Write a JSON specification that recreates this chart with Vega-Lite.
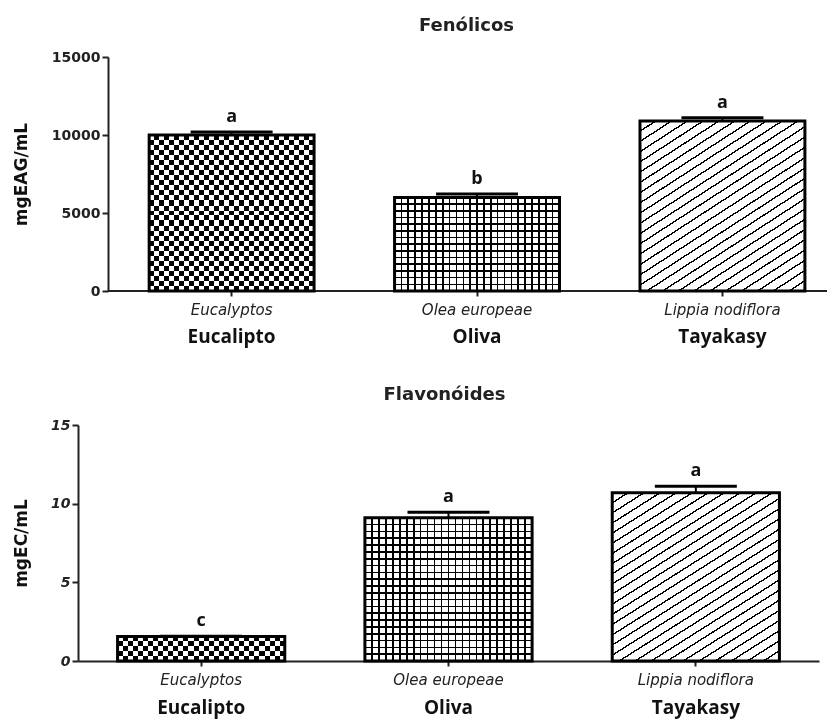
{
  "$schema": "https://vega.github.io/schema/vega-lite/v6.json",
  "background": "#ffffff",
  "padding": {"left": 12, "top": 17, "right": 0, "bottom": 6},
  "spacing": 40,
  "config": {
    "view": {"stroke": null},
    "axis": {"grid": false, "domainColor": "#222", "domainWidth": 2, "tickColor": "#222", "tickWidth": 2},
    "title": {"font": "DejaVu Sans", "fontSize": 18, "fontWeight": "bold", "color": "#222", "anchor": "middle"}
  },
  "datasets": {
    "fenolicos": [
      {"name": "Eucalipto", "value": 10000, "hi": 10200, "letter": "a"},
      {"name": "Oliva", "value": 6000, "hi": 6220, "letter": "b"},
      {"name": "Tayakasy", "value": 10900, "hi": 11100, "letter": "a"}
    ],
    "flavonoides": [
      {"name": "Eucalipto", "value": 1.55, "hi": 1.58, "letter": "c"},
      {"name": "Oliva", "value": 9.1, "hi": 9.45, "letter": "a"},
      {"name": "Tayakasy", "value": 10.7, "hi": 11.1, "letter": "a"}
    ]
  },
  "vconcat": [
    {
      "title": {"text": "Fenólicos", "dx": 14, "offset": 15},
      "width": 749,
      "height": 234,
      "data": {"name": "fenolicos"},
      "resolve": {"axis": {"x": "independent"}},
      "layer": [
        {
          "mark": {"type": "bar", "fill": "#fff"},
          "encoding": {
            "x": {"field": "name", "type": "nominal", "sort": null,
                  "scale": {"domain": ["Eucalipto", "Oliva", "Tayakasy"], "paddingInner": 0.328, "paddingOuter": 0.19, "align": 0.763},
                  "axis": {"orient": "bottom", "title": null, "domain": false, "labelAngle": 0, "labelFont": "DejaVu Sans", "labelFontStyle": "italic", "labelFontSize": 15, "labelColor": "#222", "labelPadding": 6, "tickSize": 5,
                           "labelExpr": "datum.value === 'Eucalipto' ? 'Eucalyptos' : datum.value === 'Oliva' ? 'Olea europeae' : 'Lippia nodiflora'"}},
            "y": {"field": "value", "type": "quantitative", "scale": {"domain": [0, 15000], "nice": false},
                  "axis": {"offset": -30, "title": "mgEAG/mL", "titleFont": "DejaVu Sans", "titleFontSize": 17, "titleFontWeight": "bold", "titleColor": "#111", "titlePadding": 21, "format": "d",
                           "values": [0, 5000, 10000, 15000], "labelFont": "DejaVu Sans", "labelFontSize": 14, "labelFontWeight": "bold", "labelColor": "#222", "labelPadding": 2, "tickSize": 6}}
          }
        },
        {
          "mark": {"type": "rule", "color": "#222", "strokeWidth": 2},
          "encoding": {
            "x": {"datum": "Eucalipto", "type": "nominal", "bandPosition": -0.25, "axis": null},
            "x2": {"datum": "Tayakasy", "bandPosition": 1.134},
            "y": {"datum": 0, "type": "quantitative"}
          }
        },
        {
          "transform": [{"filter": "datum.name === 'Eucalipto'"}],
          "mark": {"type": "bar", "fill": {"gradient": "linear", "x1": 0, "y1": 0, "x2": 1, "y2": 0, "stops": [
            {"offset":0,"color":"#000"},{"offset":0.030,"color":"#000"},{"offset":0.030,"color":"#fff"},{"offset":0.061,"color":"#fff"},
            {"offset":0.061,"color":"#000"},{"offset":0.091,"color":"#000"},{"offset":0.091,"color":"#fff"},{"offset":0.121,"color":"#fff"},
            {"offset":0.121,"color":"#000"},{"offset":0.152,"color":"#000"},{"offset":0.152,"color":"#fff"},{"offset":0.182,"color":"#fff"},
            {"offset":0.182,"color":"#000"},{"offset":0.212,"color":"#000"},{"offset":0.212,"color":"#fff"},{"offset":0.242,"color":"#fff"},
            {"offset":0.242,"color":"#000"},{"offset":0.273,"color":"#000"},{"offset":0.273,"color":"#fff"},{"offset":0.303,"color":"#fff"},
            {"offset":0.303,"color":"#000"},{"offset":0.333,"color":"#000"},{"offset":0.333,"color":"#fff"},{"offset":0.364,"color":"#fff"},
            {"offset":0.364,"color":"#000"},{"offset":0.394,"color":"#000"},{"offset":0.394,"color":"#fff"},{"offset":0.424,"color":"#fff"},
            {"offset":0.424,"color":"#000"},{"offset":0.455,"color":"#000"},{"offset":0.455,"color":"#fff"},{"offset":0.485,"color":"#fff"},
            {"offset":0.485,"color":"#000"},{"offset":0.515,"color":"#000"},{"offset":0.515,"color":"#fff"},{"offset":0.545,"color":"#fff"},
            {"offset":0.545,"color":"#000"},{"offset":0.576,"color":"#000"},{"offset":0.576,"color":"#fff"},{"offset":0.606,"color":"#fff"},
            {"offset":0.606,"color":"#000"},{"offset":0.636,"color":"#000"},{"offset":0.636,"color":"#fff"},{"offset":0.667,"color":"#fff"},
            {"offset":0.667,"color":"#000"},{"offset":0.697,"color":"#000"},{"offset":0.697,"color":"#fff"},{"offset":0.727,"color":"#fff"},
            {"offset":0.727,"color":"#000"},{"offset":0.758,"color":"#000"},{"offset":0.758,"color":"#fff"},{"offset":0.788,"color":"#fff"},
            {"offset":0.788,"color":"#000"},{"offset":0.818,"color":"#000"},{"offset":0.818,"color":"#fff"},{"offset":0.848,"color":"#fff"},
            {"offset":0.848,"color":"#000"},{"offset":0.879,"color":"#000"},{"offset":0.879,"color":"#fff"},{"offset":0.909,"color":"#fff"},
            {"offset":0.909,"color":"#000"},{"offset":0.939,"color":"#000"},{"offset":0.939,"color":"#fff"},{"offset":0.970,"color":"#fff"},
            {"offset":0.970,"color":"#000"},{"offset":1,"color":"#000"}]}},
          "encoding": {"x": {"field": "name", "type": "nominal", "sort": null, "axis": null}, "y": {"field": "value", "type": "quantitative"}}
        },
        {
          "transform": [{"filter": "datum.name === 'Eucalipto'"}],
          "mark": {"type": "bar", "blend": "difference", "fill": {"gradient": "linear", "x1": 0, "y1": 0, "x2": 0, "y2": 1, "stops": [
            {"offset":0,"color":"#fff"},{"offset":0.032,"color":"#fff"},{"offset":0.032,"color":"#0000"},{"offset":0.065,"color":"#0000"},
            {"offset":0.065,"color":"#fff"},{"offset":0.097,"color":"#fff"},{"offset":0.097,"color":"#0000"},{"offset":0.129,"color":"#0000"},
            {"offset":0.129,"color":"#fff"},{"offset":0.161,"color":"#fff"},{"offset":0.161,"color":"#0000"},{"offset":0.194,"color":"#0000"},
            {"offset":0.194,"color":"#fff"},{"offset":0.226,"color":"#fff"},{"offset":0.226,"color":"#0000"},{"offset":0.258,"color":"#0000"},
            {"offset":0.258,"color":"#fff"},{"offset":0.290,"color":"#fff"},{"offset":0.290,"color":"#0000"},{"offset":0.323,"color":"#0000"},
            {"offset":0.323,"color":"#fff"},{"offset":0.355,"color":"#fff"},{"offset":0.355,"color":"#0000"},{"offset":0.387,"color":"#0000"},
            {"offset":0.387,"color":"#fff"},{"offset":0.419,"color":"#fff"},{"offset":0.419,"color":"#0000"},{"offset":0.452,"color":"#0000"},
            {"offset":0.452,"color":"#fff"},{"offset":0.484,"color":"#fff"},{"offset":0.484,"color":"#0000"},{"offset":0.516,"color":"#0000"},
            {"offset":0.516,"color":"#fff"},{"offset":0.548,"color":"#fff"},{"offset":0.548,"color":"#0000"},{"offset":0.581,"color":"#0000"},
            {"offset":0.581,"color":"#fff"},{"offset":0.613,"color":"#fff"},{"offset":0.613,"color":"#0000"},{"offset":0.645,"color":"#0000"},
            {"offset":0.645,"color":"#fff"},{"offset":0.677,"color":"#fff"},{"offset":0.677,"color":"#0000"},{"offset":0.710,"color":"#0000"},
            {"offset":0.710,"color":"#fff"},{"offset":0.742,"color":"#fff"},{"offset":0.742,"color":"#0000"},{"offset":0.774,"color":"#0000"},
            {"offset":0.774,"color":"#fff"},{"offset":0.806,"color":"#fff"},{"offset":0.806,"color":"#0000"},{"offset":0.839,"color":"#0000"},
            {"offset":0.839,"color":"#fff"},{"offset":0.871,"color":"#fff"},{"offset":0.871,"color":"#0000"},{"offset":0.903,"color":"#0000"},
            {"offset":0.903,"color":"#fff"},{"offset":0.935,"color":"#fff"},{"offset":0.935,"color":"#0000"},{"offset":0.968,"color":"#0000"},
            {"offset":0.968,"color":"#fff"},{"offset":1,"color":"#fff"}]}},
          "encoding": {"x": {"field": "name", "type": "nominal", "sort": null, "axis": null}, "y": {"field": "value", "type": "quantitative"}}
        },
        {
          "transform": [{"filter": "datum.name === 'Oliva'"}],
          "mark": {"type": "bar", "fill": {"gradient": "linear", "x1": 0, "y1": 0, "x2": 1, "y2": 0, "stops": [
            {"offset":0.037,"color":"#0000"},{"offset":0.037,"color":"#000"},{"offset":0.047,"color":"#000"},{"offset":0.047,"color":"#0000"},
            {"offset":0.078,"color":"#0000"},{"offset":0.078,"color":"#000"},{"offset":0.088,"color":"#000"},{"offset":0.088,"color":"#0000"},
            {"offset":0.120,"color":"#0000"},{"offset":0.120,"color":"#000"},{"offset":0.130,"color":"#000"},{"offset":0.130,"color":"#0000"},
            {"offset":0.162,"color":"#0000"},{"offset":0.162,"color":"#000"},{"offset":0.172,"color":"#000"},{"offset":0.172,"color":"#0000"},
            {"offset":0.203,"color":"#0000"},{"offset":0.203,"color":"#000"},{"offset":0.213,"color":"#000"},{"offset":0.213,"color":"#0000"},
            {"offset":0.245,"color":"#0000"},{"offset":0.245,"color":"#000"},{"offset":0.255,"color":"#000"},{"offset":0.255,"color":"#0000"},
            {"offset":0.287,"color":"#0000"},{"offset":0.287,"color":"#000"},{"offset":0.297,"color":"#000"},{"offset":0.297,"color":"#0000"},
            {"offset":0.328,"color":"#0000"},{"offset":0.328,"color":"#000"},{"offset":0.338,"color":"#000"},{"offset":0.338,"color":"#0000"},
            {"offset":0.370,"color":"#0000"},{"offset":0.370,"color":"#000"},{"offset":0.380,"color":"#000"},{"offset":0.380,"color":"#0000"},
            {"offset":0.412,"color":"#0000"},{"offset":0.412,"color":"#000"},{"offset":0.422,"color":"#000"},{"offset":0.422,"color":"#0000"},
            {"offset":0.453,"color":"#0000"},{"offset":0.453,"color":"#000"},{"offset":0.463,"color":"#000"},{"offset":0.463,"color":"#0000"},
            {"offset":0.495,"color":"#0000"},{"offset":0.495,"color":"#000"},{"offset":0.505,"color":"#000"},{"offset":0.505,"color":"#0000"},
            {"offset":0.537,"color":"#0000"},{"offset":0.537,"color":"#000"},{"offset":0.547,"color":"#000"},{"offset":0.547,"color":"#0000"},
            {"offset":0.578,"color":"#0000"},{"offset":0.578,"color":"#000"},{"offset":0.588,"color":"#000"},{"offset":0.588,"color":"#0000"},
            {"offset":0.620,"color":"#0000"},{"offset":0.620,"color":"#000"},{"offset":0.630,"color":"#000"},{"offset":0.630,"color":"#0000"},
            {"offset":0.662,"color":"#0000"},{"offset":0.662,"color":"#000"},{"offset":0.672,"color":"#000"},{"offset":0.672,"color":"#0000"},
            {"offset":0.703,"color":"#0000"},{"offset":0.703,"color":"#000"},{"offset":0.713,"color":"#000"},{"offset":0.713,"color":"#0000"},
            {"offset":0.745,"color":"#0000"},{"offset":0.745,"color":"#000"},{"offset":0.755,"color":"#000"},{"offset":0.755,"color":"#0000"},
            {"offset":0.787,"color":"#0000"},{"offset":0.787,"color":"#000"},{"offset":0.797,"color":"#000"},{"offset":0.797,"color":"#0000"},
            {"offset":0.828,"color":"#0000"},{"offset":0.828,"color":"#000"},{"offset":0.838,"color":"#000"},{"offset":0.838,"color":"#0000"},
            {"offset":0.870,"color":"#0000"},{"offset":0.870,"color":"#000"},{"offset":0.880,"color":"#000"},{"offset":0.880,"color":"#0000"},
            {"offset":0.912,"color":"#0000"},{"offset":0.912,"color":"#000"},{"offset":0.922,"color":"#000"},{"offset":0.922,"color":"#0000"},
            {"offset":0.953,"color":"#0000"},{"offset":0.953,"color":"#000"},{"offset":0.963,"color":"#000"},{"offset":0.963,"color":"#0000"}]}},
          "encoding": {"x": {"field": "name", "type": "nominal", "sort": null, "axis": null}, "y": {"field": "value", "type": "quantitative"}}
        },
        {
          "transform": [{"filter": "datum.name === 'Oliva'"}],
          "mark": {"type": "bar", "fill": {"gradient": "linear", "x1": 0, "y1": 0, "x2": 0, "y2": 1, "stops": [
            {"offset":0.063,"color":"#0000"},{"offset":0.063,"color":"#000"},{"offset":0.080,"color":"#000"},{"offset":0.080,"color":"#0000"},
            {"offset":0.134,"color":"#0000"},{"offset":0.134,"color":"#000"},{"offset":0.151,"color":"#000"},{"offset":0.151,"color":"#0000"},
            {"offset":0.206,"color":"#0000"},{"offset":0.206,"color":"#000"},{"offset":0.223,"color":"#000"},{"offset":0.223,"color":"#0000"},
            {"offset":0.277,"color":"#0000"},{"offset":0.277,"color":"#000"},{"offset":0.294,"color":"#000"},{"offset":0.294,"color":"#0000"},
            {"offset":0.349,"color":"#0000"},{"offset":0.349,"color":"#000"},{"offset":0.366,"color":"#000"},{"offset":0.366,"color":"#0000"},
            {"offset":0.420,"color":"#0000"},{"offset":0.420,"color":"#000"},{"offset":0.437,"color":"#000"},{"offset":0.437,"color":"#0000"},
            {"offset":0.492,"color":"#0000"},{"offset":0.492,"color":"#000"},{"offset":0.509,"color":"#000"},{"offset":0.509,"color":"#0000"},
            {"offset":0.563,"color":"#0000"},{"offset":0.563,"color":"#000"},{"offset":0.580,"color":"#000"},{"offset":0.580,"color":"#0000"},
            {"offset":0.634,"color":"#0000"},{"offset":0.634,"color":"#000"},{"offset":0.651,"color":"#000"},{"offset":0.651,"color":"#0000"},
            {"offset":0.706,"color":"#0000"},{"offset":0.706,"color":"#000"},{"offset":0.723,"color":"#000"},{"offset":0.723,"color":"#0000"},
            {"offset":0.777,"color":"#0000"},{"offset":0.777,"color":"#000"},{"offset":0.794,"color":"#000"},{"offset":0.794,"color":"#0000"},
            {"offset":0.849,"color":"#0000"},{"offset":0.849,"color":"#000"},{"offset":0.866,"color":"#000"},{"offset":0.866,"color":"#0000"},
            {"offset":0.920,"color":"#0000"},{"offset":0.920,"color":"#000"},{"offset":0.937,"color":"#000"},{"offset":0.937,"color":"#0000"}]}},
          "encoding": {"x": {"field": "name", "type": "nominal", "sort": null, "axis": null}, "y": {"field": "value", "type": "quantitative"}}
        },
        {
          "transform": [{"filter": "datum.name === 'Tayakasy'"}],
          "mark": {"type": "bar", "fill": {"gradient": "linear", "x1": 0, "y1": 0, "x2": 0.734, "y2": 1.167, "stops": [
            {"offset":0.034,"color":"#fff"},{"offset":0.034,"color":"#000"},{"offset":0.040,"color":"#000"},{"offset":0.040,"color":"#fff"},
            {"offset":0.071,"color":"#fff"},{"offset":0.071,"color":"#000"},{"offset":0.077,"color":"#000"},{"offset":0.077,"color":"#fff"},
            {"offset":0.108,"color":"#fff"},{"offset":0.108,"color":"#000"},{"offset":0.114,"color":"#000"},{"offset":0.114,"color":"#fff"},
            {"offset":0.145,"color":"#fff"},{"offset":0.145,"color":"#000"},{"offset":0.151,"color":"#000"},{"offset":0.151,"color":"#fff"},
            {"offset":0.182,"color":"#fff"},{"offset":0.182,"color":"#000"},{"offset":0.188,"color":"#000"},{"offset":0.188,"color":"#fff"},
            {"offset":0.219,"color":"#fff"},{"offset":0.219,"color":"#000"},{"offset":0.225,"color":"#000"},{"offset":0.225,"color":"#fff"},
            {"offset":0.256,"color":"#fff"},{"offset":0.256,"color":"#000"},{"offset":0.262,"color":"#000"},{"offset":0.262,"color":"#fff"},
            {"offset":0.293,"color":"#fff"},{"offset":0.293,"color":"#000"},{"offset":0.299,"color":"#000"},{"offset":0.299,"color":"#fff"},
            {"offset":0.330,"color":"#fff"},{"offset":0.330,"color":"#000"},{"offset":0.336,"color":"#000"},{"offset":0.336,"color":"#fff"},
            {"offset":0.367,"color":"#fff"},{"offset":0.367,"color":"#000"},{"offset":0.373,"color":"#000"},{"offset":0.373,"color":"#fff"},
            {"offset":0.404,"color":"#fff"},{"offset":0.404,"color":"#000"},{"offset":0.410,"color":"#000"},{"offset":0.410,"color":"#fff"},
            {"offset":0.441,"color":"#fff"},{"offset":0.441,"color":"#000"},{"offset":0.447,"color":"#000"},{"offset":0.447,"color":"#fff"},
            {"offset":0.478,"color":"#fff"},{"offset":0.478,"color":"#000"},{"offset":0.484,"color":"#000"},{"offset":0.484,"color":"#fff"},
            {"offset":0.516,"color":"#fff"},{"offset":0.516,"color":"#000"},{"offset":0.522,"color":"#000"},{"offset":0.522,"color":"#fff"},
            {"offset":0.553,"color":"#fff"},{"offset":0.553,"color":"#000"},{"offset":0.559,"color":"#000"},{"offset":0.559,"color":"#fff"},
            {"offset":0.590,"color":"#fff"},{"offset":0.590,"color":"#000"},{"offset":0.596,"color":"#000"},{"offset":0.596,"color":"#fff"},
            {"offset":0.627,"color":"#fff"},{"offset":0.627,"color":"#000"},{"offset":0.633,"color":"#000"},{"offset":0.633,"color":"#fff"},
            {"offset":0.664,"color":"#fff"},{"offset":0.664,"color":"#000"},{"offset":0.670,"color":"#000"},{"offset":0.670,"color":"#fff"},
            {"offset":0.701,"color":"#fff"},{"offset":0.701,"color":"#000"},{"offset":0.707,"color":"#000"},{"offset":0.707,"color":"#fff"},
            {"offset":0.738,"color":"#fff"},{"offset":0.738,"color":"#000"},{"offset":0.744,"color":"#000"},{"offset":0.744,"color":"#fff"},
            {"offset":0.775,"color":"#fff"},{"offset":0.775,"color":"#000"},{"offset":0.781,"color":"#000"},{"offset":0.781,"color":"#fff"},
            {"offset":0.812,"color":"#fff"},{"offset":0.812,"color":"#000"},{"offset":0.818,"color":"#000"},{"offset":0.818,"color":"#fff"},
            {"offset":0.849,"color":"#fff"},{"offset":0.849,"color":"#000"},{"offset":0.855,"color":"#000"},{"offset":0.855,"color":"#fff"},
            {"offset":0.886,"color":"#fff"},{"offset":0.886,"color":"#000"},{"offset":0.892,"color":"#000"},{"offset":0.892,"color":"#fff"},
            {"offset":0.923,"color":"#fff"},{"offset":0.923,"color":"#000"},{"offset":0.929,"color":"#000"},{"offset":0.929,"color":"#fff"},
            {"offset":0.960,"color":"#fff"},{"offset":0.960,"color":"#000"},{"offset":0.966,"color":"#000"},{"offset":0.966,"color":"#fff"}]}},
          "encoding": {"x": {"field": "name", "type": "nominal", "sort": null, "axis": null}, "y": {"field": "value", "type": "quantitative"}}
        },
        {
          "mark": {"type": "bar", "fill": "transparent", "stroke": "#000", "strokeWidth": 3},
          "encoding": {"x": {"field": "name", "type": "nominal", "sort": null, "axis": null}, "y": {"field": "value", "type": "quantitative"}}
        },
        {
          "mark": {"type": "rule", "color": "#000", "strokeWidth": 2},
          "encoding": {"x": {"field": "name", "type": "nominal", "sort": null, "axis": null}, "y": {"field": "value", "type": "quantitative"}, "y2": {"field": "hi"}}
        },
        {
          "mark": {"type": "tick", "orient": "horizontal", "color": "#000", "opacity": 1, "size": 82, "thickness": 3},
          "encoding": {"x": {"field": "name", "type": "nominal", "sort": null, "axis": null}, "y": {"field": "hi", "type": "quantitative"}}
        },
        {
          "mark": {"type": "text", "baseline": "bottom", "dy": -6, "font": "Open Sans", "fontSize": 18, "fontWeight": "bold", "color": "#111"},
          "encoding": {
            "x": {"field": "name", "type": "nominal", "sort": null,
                  "axis": {"orient": "bottom", "title": null, "domain": false, "ticks": false, "tickSize": 0, "labelAngle": 0, "labelFont": "Open Sans", "labelFontWeight": "bold", "labelFontSize": 19, "labelColor": "#111", "labelPadding": 0, "offset": 36}},
            "y": {"field": "hi", "type": "quantitative"},
            "text": {"field": "letter"}
          }
        }
      ]
    },
    {
      "title": {"text": "Flavonóides", "dx": -4, "offset": 14},
      "width": 741,
      "height": 236,
      "data": {"name": "flavonoides"},
      "resolve": {"axis": {"x": "independent"}},
      "layer": [
        {
          "mark": {"type": "bar", "fill": "#fff"},
          "encoding": {
            "x": {"field": "name", "type": "nominal", "sort": null,
                  "scale": {"domain": ["Eucalipto", "Oliva", "Tayakasy"], "paddingInner": 0.324, "paddingOuter": 0.16, "align": 0.5},
                  "axis": {"orient": "bottom", "title": null, "labelAngle": 0, "labelFont": "DejaVu Sans", "labelFontStyle": "italic", "labelFontSize": 15, "labelColor": "#222", "labelPadding": 6, "tickSize": 5,
                           "labelExpr": "datum.value === 'Eucalipto' ? 'Eucalyptos' : datum.value === 'Oliva' ? 'Olea europeae' : 'Lippia nodiflora'"}},
            "y": {"field": "value", "type": "quantitative", "scale": {"domain": [0, 15], "nice": false},
                  "axis": {"title": "mgEC/mL", "titleFont": "DejaVu Sans", "titleFontSize": 17, "titleFontWeight": "bold", "titleColor": "#111", "titlePadding": 20,
                           "values": [0, 5, 10, 15], "labelFont": "DejaVu Sans", "labelFontSize": 14, "labelFontWeight": "bold", "labelFontStyle": "italic", "labelColor": "#222", "labelPadding": 2, "tickSize": 6}}
          }
        },
        {
          "transform": [{"filter": "datum.name === 'Eucalipto'"}],
          "mark": {"type": "bar", "fill": {"gradient": "linear", "x1": 0, "y1": 0, "x2": 1, "y2": 0, "stops": [
            {"offset":0,"color":"#000"},{"offset":0.030,"color":"#000"},{"offset":0.030,"color":"#fff"},{"offset":0.061,"color":"#fff"},
            {"offset":0.061,"color":"#000"},{"offset":0.091,"color":"#000"},{"offset":0.091,"color":"#fff"},{"offset":0.121,"color":"#fff"},
            {"offset":0.121,"color":"#000"},{"offset":0.152,"color":"#000"},{"offset":0.152,"color":"#fff"},{"offset":0.182,"color":"#fff"},
            {"offset":0.182,"color":"#000"},{"offset":0.212,"color":"#000"},{"offset":0.212,"color":"#fff"},{"offset":0.242,"color":"#fff"},
            {"offset":0.242,"color":"#000"},{"offset":0.273,"color":"#000"},{"offset":0.273,"color":"#fff"},{"offset":0.303,"color":"#fff"},
            {"offset":0.303,"color":"#000"},{"offset":0.333,"color":"#000"},{"offset":0.333,"color":"#fff"},{"offset":0.364,"color":"#fff"},
            {"offset":0.364,"color":"#000"},{"offset":0.394,"color":"#000"},{"offset":0.394,"color":"#fff"},{"offset":0.424,"color":"#fff"},
            {"offset":0.424,"color":"#000"},{"offset":0.455,"color":"#000"},{"offset":0.455,"color":"#fff"},{"offset":0.485,"color":"#fff"},
            {"offset":0.485,"color":"#000"},{"offset":0.515,"color":"#000"},{"offset":0.515,"color":"#fff"},{"offset":0.545,"color":"#fff"},
            {"offset":0.545,"color":"#000"},{"offset":0.576,"color":"#000"},{"offset":0.576,"color":"#fff"},{"offset":0.606,"color":"#fff"},
            {"offset":0.606,"color":"#000"},{"offset":0.636,"color":"#000"},{"offset":0.636,"color":"#fff"},{"offset":0.667,"color":"#fff"},
            {"offset":0.667,"color":"#000"},{"offset":0.697,"color":"#000"},{"offset":0.697,"color":"#fff"},{"offset":0.727,"color":"#fff"},
            {"offset":0.727,"color":"#000"},{"offset":0.758,"color":"#000"},{"offset":0.758,"color":"#fff"},{"offset":0.788,"color":"#fff"},
            {"offset":0.788,"color":"#000"},{"offset":0.818,"color":"#000"},{"offset":0.818,"color":"#fff"},{"offset":0.848,"color":"#fff"},
            {"offset":0.848,"color":"#000"},{"offset":0.879,"color":"#000"},{"offset":0.879,"color":"#fff"},{"offset":0.909,"color":"#fff"},
            {"offset":0.909,"color":"#000"},{"offset":0.939,"color":"#000"},{"offset":0.939,"color":"#fff"},{"offset":0.970,"color":"#fff"},
            {"offset":0.970,"color":"#000"},{"offset":1,"color":"#000"}]}},
          "encoding": {"x": {"field": "name", "type": "nominal", "sort": null, "axis": null}, "y": {"field": "value", "type": "quantitative"}}
        },
        {
          "transform": [{"filter": "datum.name === 'Eucalipto'"}],
          "mark": {"type": "bar", "blend": "difference", "fill": {"gradient": "linear", "x1": 0, "y1": 0, "x2": 0, "y2": 1, "stops": [
            {"offset":0,"color":"#fff"},{"offset":0.2,"color":"#fff"},{"offset":0.2,"color":"#0000"},{"offset":0.4,"color":"#0000"},
            {"offset":0.4,"color":"#fff"},{"offset":0.6,"color":"#fff"},{"offset":0.6,"color":"#0000"},{"offset":0.8,"color":"#0000"},
            {"offset":0.8,"color":"#fff"},{"offset":1,"color":"#fff"}]}},
          "encoding": {"x": {"field": "name", "type": "nominal", "sort": null, "axis": null}, "y": {"field": "value", "type": "quantitative"}}
        },
        {
          "transform": [{"filter": "datum.name === 'Oliva'"}],
          "mark": {"type": "bar", "fill": {"gradient": "linear", "x1": 0, "y1": 0, "x2": 1, "y2": 0, "stops": [
            {"offset":0.037,"color":"#0000"},{"offset":0.037,"color":"#000"},{"offset":0.047,"color":"#000"},{"offset":0.047,"color":"#0000"},
            {"offset":0.078,"color":"#0000"},{"offset":0.078,"color":"#000"},{"offset":0.088,"color":"#000"},{"offset":0.088,"color":"#0000"},
            {"offset":0.120,"color":"#0000"},{"offset":0.120,"color":"#000"},{"offset":0.130,"color":"#000"},{"offset":0.130,"color":"#0000"},
            {"offset":0.162,"color":"#0000"},{"offset":0.162,"color":"#000"},{"offset":0.172,"color":"#000"},{"offset":0.172,"color":"#0000"},
            {"offset":0.203,"color":"#0000"},{"offset":0.203,"color":"#000"},{"offset":0.213,"color":"#000"},{"offset":0.213,"color":"#0000"},
            {"offset":0.245,"color":"#0000"},{"offset":0.245,"color":"#000"},{"offset":0.255,"color":"#000"},{"offset":0.255,"color":"#0000"},
            {"offset":0.287,"color":"#0000"},{"offset":0.287,"color":"#000"},{"offset":0.297,"color":"#000"},{"offset":0.297,"color":"#0000"},
            {"offset":0.328,"color":"#0000"},{"offset":0.328,"color":"#000"},{"offset":0.338,"color":"#000"},{"offset":0.338,"color":"#0000"},
            {"offset":0.370,"color":"#0000"},{"offset":0.370,"color":"#000"},{"offset":0.380,"color":"#000"},{"offset":0.380,"color":"#0000"},
            {"offset":0.412,"color":"#0000"},{"offset":0.412,"color":"#000"},{"offset":0.422,"color":"#000"},{"offset":0.422,"color":"#0000"},
            {"offset":0.453,"color":"#0000"},{"offset":0.453,"color":"#000"},{"offset":0.463,"color":"#000"},{"offset":0.463,"color":"#0000"},
            {"offset":0.495,"color":"#0000"},{"offset":0.495,"color":"#000"},{"offset":0.505,"color":"#000"},{"offset":0.505,"color":"#0000"},
            {"offset":0.537,"color":"#0000"},{"offset":0.537,"color":"#000"},{"offset":0.547,"color":"#000"},{"offset":0.547,"color":"#0000"},
            {"offset":0.578,"color":"#0000"},{"offset":0.578,"color":"#000"},{"offset":0.588,"color":"#000"},{"offset":0.588,"color":"#0000"},
            {"offset":0.620,"color":"#0000"},{"offset":0.620,"color":"#000"},{"offset":0.630,"color":"#000"},{"offset":0.630,"color":"#0000"},
            {"offset":0.662,"color":"#0000"},{"offset":0.662,"color":"#000"},{"offset":0.672,"color":"#000"},{"offset":0.672,"color":"#0000"},
            {"offset":0.703,"color":"#0000"},{"offset":0.703,"color":"#000"},{"offset":0.713,"color":"#000"},{"offset":0.713,"color":"#0000"},
            {"offset":0.745,"color":"#0000"},{"offset":0.745,"color":"#000"},{"offset":0.755,"color":"#000"},{"offset":0.755,"color":"#0000"},
            {"offset":0.787,"color":"#0000"},{"offset":0.787,"color":"#000"},{"offset":0.797,"color":"#000"},{"offset":0.797,"color":"#0000"},
            {"offset":0.828,"color":"#0000"},{"offset":0.828,"color":"#000"},{"offset":0.838,"color":"#000"},{"offset":0.838,"color":"#0000"},
            {"offset":0.870,"color":"#0000"},{"offset":0.870,"color":"#000"},{"offset":0.880,"color":"#000"},{"offset":0.880,"color":"#0000"},
            {"offset":0.912,"color":"#0000"},{"offset":0.912,"color":"#000"},{"offset":0.922,"color":"#000"},{"offset":0.922,"color":"#0000"},
            {"offset":0.953,"color":"#0000"},{"offset":0.953,"color":"#000"},{"offset":0.963,"color":"#000"},{"offset":0.963,"color":"#0000"}]}},
          "encoding": {"x": {"field": "name", "type": "nominal", "sort": null, "axis": null}, "y": {"field": "value", "type": "quantitative"}}
        },
        {
          "transform": [{"filter": "datum.name === 'Oliva'"}],
          "mark": {"type": "bar", "fill": {"gradient": "linear", "x1": 0, "y1": 0, "x2": 0, "y2": 1, "stops": [
            {"offset":0.042,"color":"#0000"},{"offset":0.042,"color":"#000"},{"offset":0.053,"color":"#000"},{"offset":0.053,"color":"#0000"},
            {"offset":0.089,"color":"#0000"},{"offset":0.089,"color":"#000"},{"offset":0.101,"color":"#000"},{"offset":0.101,"color":"#0000"},
            {"offset":0.137,"color":"#0000"},{"offset":0.137,"color":"#000"},{"offset":0.149,"color":"#000"},{"offset":0.149,"color":"#0000"},
            {"offset":0.184,"color":"#0000"},{"offset":0.184,"color":"#000"},{"offset":0.196,"color":"#000"},{"offset":0.196,"color":"#0000"},
            {"offset":0.232,"color":"#0000"},{"offset":0.232,"color":"#000"},{"offset":0.244,"color":"#000"},{"offset":0.244,"color":"#0000"},
            {"offset":0.280,"color":"#0000"},{"offset":0.280,"color":"#000"},{"offset":0.292,"color":"#000"},{"offset":0.292,"color":"#0000"},
            {"offset":0.327,"color":"#0000"},{"offset":0.327,"color":"#000"},{"offset":0.339,"color":"#000"},{"offset":0.339,"color":"#0000"},
            {"offset":0.375,"color":"#0000"},{"offset":0.375,"color":"#000"},{"offset":0.387,"color":"#000"},{"offset":0.387,"color":"#0000"},
            {"offset":0.423,"color":"#0000"},{"offset":0.423,"color":"#000"},{"offset":0.435,"color":"#000"},{"offset":0.435,"color":"#0000"},
            {"offset":0.470,"color":"#0000"},{"offset":0.470,"color":"#000"},{"offset":0.482,"color":"#000"},{"offset":0.482,"color":"#0000"},
            {"offset":0.518,"color":"#0000"},{"offset":0.518,"color":"#000"},{"offset":0.530,"color":"#000"},{"offset":0.530,"color":"#0000"},
            {"offset":0.565,"color":"#0000"},{"offset":0.565,"color":"#000"},{"offset":0.577,"color":"#000"},{"offset":0.577,"color":"#0000"},
            {"offset":0.613,"color":"#0000"},{"offset":0.613,"color":"#000"},{"offset":0.625,"color":"#000"},{"offset":0.625,"color":"#0000"},
            {"offset":0.661,"color":"#0000"},{"offset":0.661,"color":"#000"},{"offset":0.673,"color":"#000"},{"offset":0.673,"color":"#0000"},
            {"offset":0.708,"color":"#0000"},{"offset":0.708,"color":"#000"},{"offset":0.720,"color":"#000"},{"offset":0.720,"color":"#0000"},
            {"offset":0.756,"color":"#0000"},{"offset":0.756,"color":"#000"},{"offset":0.768,"color":"#000"},{"offset":0.768,"color":"#0000"},
            {"offset":0.804,"color":"#0000"},{"offset":0.804,"color":"#000"},{"offset":0.816,"color":"#000"},{"offset":0.816,"color":"#0000"},
            {"offset":0.851,"color":"#0000"},{"offset":0.851,"color":"#000"},{"offset":0.863,"color":"#000"},{"offset":0.863,"color":"#0000"},
            {"offset":0.899,"color":"#0000"},{"offset":0.899,"color":"#000"},{"offset":0.911,"color":"#000"},{"offset":0.911,"color":"#0000"},
            {"offset":0.946,"color":"#0000"},{"offset":0.946,"color":"#000"},{"offset":0.958,"color":"#000"},{"offset":0.958,"color":"#0000"}]}},
          "encoding": {"x": {"field": "name", "type": "nominal", "sort": null, "axis": null}, "y": {"field": "value", "type": "quantitative"}}
        },
        {
          "transform": [{"filter": "datum.name === 'Tayakasy'"}],
          "mark": {"type": "bar", "fill": {"gradient": "linear", "x1": 0, "y1": 0, "x2": 0.734, "y2": 1.167, "stops": [
            {"offset":0.034,"color":"#fff"},{"offset":0.034,"color":"#000"},{"offset":0.040,"color":"#000"},{"offset":0.040,"color":"#fff"},
            {"offset":0.071,"color":"#fff"},{"offset":0.071,"color":"#000"},{"offset":0.077,"color":"#000"},{"offset":0.077,"color":"#fff"},
            {"offset":0.108,"color":"#fff"},{"offset":0.108,"color":"#000"},{"offset":0.114,"color":"#000"},{"offset":0.114,"color":"#fff"},
            {"offset":0.145,"color":"#fff"},{"offset":0.145,"color":"#000"},{"offset":0.151,"color":"#000"},{"offset":0.151,"color":"#fff"},
            {"offset":0.182,"color":"#fff"},{"offset":0.182,"color":"#000"},{"offset":0.188,"color":"#000"},{"offset":0.188,"color":"#fff"},
            {"offset":0.219,"color":"#fff"},{"offset":0.219,"color":"#000"},{"offset":0.225,"color":"#000"},{"offset":0.225,"color":"#fff"},
            {"offset":0.256,"color":"#fff"},{"offset":0.256,"color":"#000"},{"offset":0.262,"color":"#000"},{"offset":0.262,"color":"#fff"},
            {"offset":0.293,"color":"#fff"},{"offset":0.293,"color":"#000"},{"offset":0.299,"color":"#000"},{"offset":0.299,"color":"#fff"},
            {"offset":0.330,"color":"#fff"},{"offset":0.330,"color":"#000"},{"offset":0.336,"color":"#000"},{"offset":0.336,"color":"#fff"},
            {"offset":0.367,"color":"#fff"},{"offset":0.367,"color":"#000"},{"offset":0.373,"color":"#000"},{"offset":0.373,"color":"#fff"},
            {"offset":0.404,"color":"#fff"},{"offset":0.404,"color":"#000"},{"offset":0.410,"color":"#000"},{"offset":0.410,"color":"#fff"},
            {"offset":0.441,"color":"#fff"},{"offset":0.441,"color":"#000"},{"offset":0.447,"color":"#000"},{"offset":0.447,"color":"#fff"},
            {"offset":0.478,"color":"#fff"},{"offset":0.478,"color":"#000"},{"offset":0.484,"color":"#000"},{"offset":0.484,"color":"#fff"},
            {"offset":0.516,"color":"#fff"},{"offset":0.516,"color":"#000"},{"offset":0.522,"color":"#000"},{"offset":0.522,"color":"#fff"},
            {"offset":0.553,"color":"#fff"},{"offset":0.553,"color":"#000"},{"offset":0.559,"color":"#000"},{"offset":0.559,"color":"#fff"},
            {"offset":0.590,"color":"#fff"},{"offset":0.590,"color":"#000"},{"offset":0.596,"color":"#000"},{"offset":0.596,"color":"#fff"},
            {"offset":0.627,"color":"#fff"},{"offset":0.627,"color":"#000"},{"offset":0.633,"color":"#000"},{"offset":0.633,"color":"#fff"},
            {"offset":0.664,"color":"#fff"},{"offset":0.664,"color":"#000"},{"offset":0.670,"color":"#000"},{"offset":0.670,"color":"#fff"},
            {"offset":0.701,"color":"#fff"},{"offset":0.701,"color":"#000"},{"offset":0.707,"color":"#000"},{"offset":0.707,"color":"#fff"},
            {"offset":0.738,"color":"#fff"},{"offset":0.738,"color":"#000"},{"offset":0.744,"color":"#000"},{"offset":0.744,"color":"#fff"},
            {"offset":0.775,"color":"#fff"},{"offset":0.775,"color":"#000"},{"offset":0.781,"color":"#000"},{"offset":0.781,"color":"#fff"},
            {"offset":0.812,"color":"#fff"},{"offset":0.812,"color":"#000"},{"offset":0.818,"color":"#000"},{"offset":0.818,"color":"#fff"},
            {"offset":0.849,"color":"#fff"},{"offset":0.849,"color":"#000"},{"offset":0.855,"color":"#000"},{"offset":0.855,"color":"#fff"},
            {"offset":0.886,"color":"#fff"},{"offset":0.886,"color":"#000"},{"offset":0.892,"color":"#000"},{"offset":0.892,"color":"#fff"},
            {"offset":0.923,"color":"#fff"},{"offset":0.923,"color":"#000"},{"offset":0.929,"color":"#000"},{"offset":0.929,"color":"#fff"},
            {"offset":0.960,"color":"#fff"},{"offset":0.960,"color":"#000"},{"offset":0.966,"color":"#000"},{"offset":0.966,"color":"#fff"}]}},
          "encoding": {"x": {"field": "name", "type": "nominal", "sort": null, "axis": null}, "y": {"field": "value", "type": "quantitative"}}
        },
        {
          "mark": {"type": "bar", "fill": "transparent", "stroke": "#000", "strokeWidth": 3},
          "encoding": {"x": {"field": "name", "type": "nominal", "sort": null, "axis": null}, "y": {"field": "value", "type": "quantitative"}}
        },
        {
          "mark": {"type": "rule", "color": "#000", "strokeWidth": 2},
          "encoding": {"x": {"field": "name", "type": "nominal", "sort": null, "axis": null}, "y": {"field": "value", "type": "quantitative"}, "y2": {"field": "hi"}}
        },
        {
          "mark": {"type": "tick", "orient": "horizontal", "color": "#000", "opacity": 1, "size": 82, "thickness": 3},
          "encoding": {"x": {"field": "name", "type": "nominal", "sort": null, "axis": null}, "y": {"field": "hi", "type": "quantitative"}}
        },
        {
          "mark": {"type": "text", "baseline": "bottom", "dy": -6, "font": "Open Sans", "fontSize": 18, "fontWeight": "bold", "color": "#111"},
          "encoding": {
            "x": {"field": "name", "type": "nominal", "sort": null,
                  "axis": {"orient": "bottom", "title": null, "domain": false, "ticks": false, "tickSize": 0, "labelAngle": 0, "labelFont": "Open Sans", "labelFontWeight": "bold", "labelFontSize": 19, "labelColor": "#111", "labelPadding": 0, "offset": 37}},
            "y": {"field": "hi", "type": "quantitative"},
            "text": {"field": "letter"}
          }
        }
      ]
    }
  ]
}
